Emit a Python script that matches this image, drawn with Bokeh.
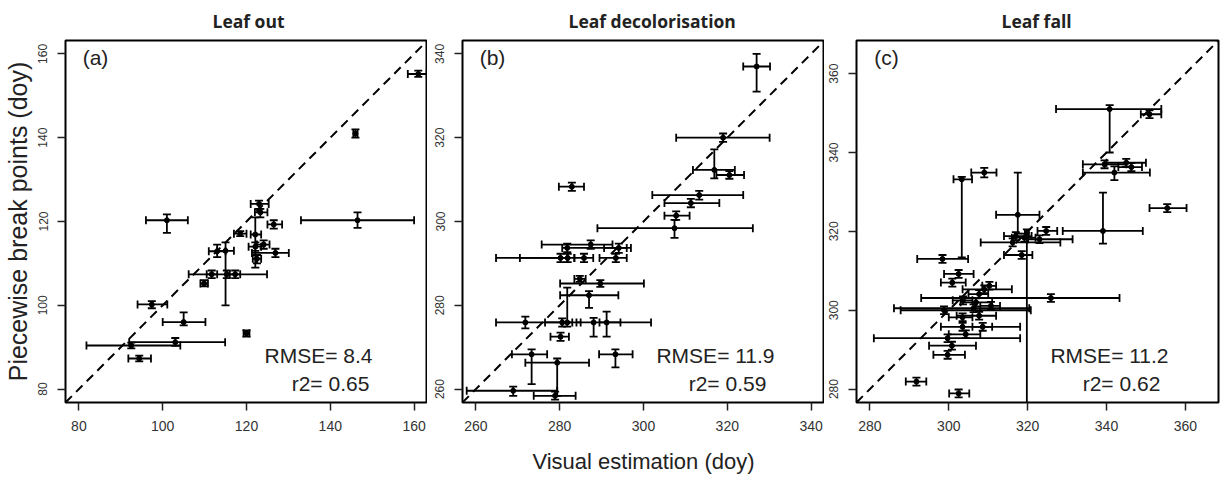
import math
from bokeh.plotting import figure
from bokeh.models import ColumnDataSource, FixedTicker, Label, Title, Range1d, Slope
from bokeh.layouts import row
from bokeh.embed import file_html
from bokeh.resources import INLINE

# ---------------- data ----------------
titles = ["Leaf out", "Leaf decolorisation", "Leaf fall"]
panel_tags = ["(a)", "(b)", "(c)"]
rmse_texts = ["RMSE= 8.4", "RMSE= 11.9", "RMSE= 11.2"]
r2_texts = ["r2= 0.65", "r2= 0.59", "r2= 0.62"]
ticks_a = [80, 100, 120, 140, 160]
ticks_b = [260, 280, 300, 320, 340]
ticks_c = [280, 300, 320, 340, 360]
lims_a = (80, 160)
lims_b = (260, 340)
lims_c = (280, 365)

a_x   = [161, 146, 101, 146.5, 123, 123.3, 126.5, 118.5, 122.1, 124.1, 122.1, 126.9, 122.5, 113, 115, 111.7, 115.3, 117.3, 109.9, 97.4, 105, 120, 92.5, 103, 94.4]
a_xlo = [158.5, 145.5, 96, 133, 121, 122, 125, 117, 121, 122.5, 120.5, 121.3, 121.5, 111, 113, 110.5, 106.2, 116, 109, 94, 100, 119.3, 81.8, 92, 91.8]
a_xhi = [163, 146.5, 106, 160, 125.3, 125, 128.5, 120, 123.5, 125.5, 123.5, 130.1, 123.5, 115, 117, 113, 124.9, 118.5, 110.8, 101.1, 110.2, 120.7, 104.2, 114.9, 97.2]
a_y   = [155.2, 141, 120.3, 120.3, 124.2, 122.2, 119.3, 117.1, 116.9, 114.5, 114, 112.5, 111.1, 112.9, 113, 107.4, 107.4, 107.4, 105.2, 100.2, 96, 93.3, 90.4, 91.2, 87.3]
a_ylo = [154.5, 140, 117.3, 118.5, 123, 121, 118.3, 116.5, 109, 113.5, 113, 111.5, 110, 111.5, 100, 106.5, 106.5, 106.5, 104.5, 99.3, 95.2, 92.5, 89.7, 90.3, 86.6]
a_yhi = [156, 142, 121.7, 122.2, 125, 123, 120.3, 117.7, 121, 115.5, 115, 113.5, 112, 114.5, 115, 108.3, 108.3, 108.3, 106, 101, 98.3, 94, 91.1, 92.2, 88]

b_x   = [327.0, 319.0, 316.9, 320.5, 282.9, 313.3, 311.3, 307.8, 307.4, 281.8, 287.4, 294.1, 280.2, 281.9, 285.8, 293.4, 284.8, 289.7, 287.0, 281.8, 271.8, 280.6, 288.1, 291.2, 280.2, 273.3, 293.3, 279.4, 268.9, 278.9]
b_xlo = [323.8, 307.8, 311.8, 317.4, 279.8, 302.1, 305.0, 305.0, 289.0, 280.6, 275.7, 290.6, 264.8, 270.5, 283.5, 289.5, 283.5, 280.1, 280.1, 280.6, 264.8, 276.5, 284.0, 289.5, 277.8, 268.6, 289.4, 271.8, 257.8, 273.8]
b_xhi = [330.2, 330.1, 321.8, 324.0, 285.8, 323.8, 318.1, 311.0, 326.1, 296.0, 292.6, 297.0, 281.8, 283.5, 288.0, 296.0, 286.2, 300.1, 294.0, 283.0, 280.5, 285.0, 301.8, 294.5, 282.2, 277.0, 297.4, 287.0, 279.4, 283.8]
b_y   = [337.0, 320.0, 312.3, 311.1, 308.3, 306.3, 304.4, 301.4, 298.4, 293.7, 294.5, 293.7, 291.3, 291.3, 291.3, 291.3, 286.3, 285.2, 282.4, 275.9, 275.9, 275.9, 275.9, 275.9, 272.5, 268.3, 268.3, 266.3, 259.6, 258.4]
b_ylo = [331.0, 319.0, 310.3, 310.2, 307.3, 305.2, 303.4, 300.4, 296.1, 292.7, 293.5, 292.5, 290.3, 290.3, 290.3, 290.3, 285.6, 284.4, 279.4, 274.9, 274.5, 274.9, 272.5, 272.5, 271.5, 261.2, 265.2, 258.4, 258.4, 257.5]
b_yhi = [340.0, 321.0, 317.2, 312.0, 309.3, 307.3, 305.4, 302.4, 300.4, 294.7, 295.5, 294.7, 292.3, 292.3, 292.3, 292.3, 287.0, 286.0, 283.4, 284.2, 277.3, 276.9, 277.0, 278.5, 273.5, 269.5, 269.5, 267.3, 260.6, 259.4]

c_x   = [340.8, 350.9, 339.5, 345.0, 342.0, 346.3, 355.4, 317.5, 309.0, 303.3, 339.1, 324.7, 319.2, 317.0, 316.2, 323.0, 318.5, 319.8, 298.4, 302.5, 300.9, 310.3, 309.0, 307.7, 325.9, 306.9, 303.6, 310.7, 298.8, 306.3, 303.5, 307.7, 303.5, 308.6, 304.3, 299.7, 300.8, 299.7, 291.8, 302.5]
c_xlo = [327.2, 348.7, 334.0, 340.0, 334.0, 343.0, 350.9, 312.0, 305.7, 301.2, 328.9, 322.5, 316.0, 314.0, 308.1, 320.1, 314.0, 319.3, 292.0, 298.8, 298.0, 308.5, 303.5, 305.0, 293.0, 303.0, 301.0, 308.0, 287.8, 286.1, 300.0, 302.0, 298.0, 306.0, 300.0, 281.0, 295.0, 296.1, 289.1, 300.1]
c_xhi = [353.9, 353.9, 345.0, 350.0, 351.0, 349.0, 360.3, 323.0, 312.1, 305.9, 349.2, 327.5, 322.0, 321.0, 328.3, 331.4, 321.2, 320.3, 304.9, 306.3, 304.3, 312.0, 316.0, 310.0, 343.3, 311.0, 306.0, 313.0, 320.8, 320.4, 306.0, 312.0, 318.1, 311.0, 308.0, 318.1, 306.9, 304.1, 294.3, 305.2]
c_y   = [351.0, 349.7, 337.0, 337.4, 334.9, 336.3, 325.9, 324.2, 334.9, 333.2, 320.1, 320.1, 318.4, 318.8, 317.2, 318.0, 314.0, 319.5, 313.0, 309.2, 307.0, 306.2, 305.3, 304.1, 303.1, 302.0, 302.5, 301.1, 300.0, 300.5, 298.2, 298.6, 295.8, 295.8, 293.9, 292.9, 291.0, 288.7, 281.9, 278.9]
c_ylo = [340.0, 348.7, 336.0, 336.4, 333.0, 335.3, 324.9, 319.4, 333.7, 313.4, 316.9, 319.1, 317.4, 317.8, 316.2, 317.0, 313.0, 250.0, 312.0, 308.2, 306.0, 305.2, 304.3, 303.1, 302.1, 301.0, 301.5, 300.1, 299.0, 299.5, 297.2, 297.6, 294.8, 294.8, 292.9, 291.9, 290.0, 287.7, 280.9, 277.9]
c_yhi = [352.0, 350.7, 338.0, 338.4, 336.5, 337.3, 326.9, 334.9, 336.1, 333.8, 329.8, 321.1, 319.4, 319.8, 318.2, 319.0, 315.0, 320.5, 314.0, 310.2, 308.0, 307.2, 306.3, 305.1, 304.1, 303.0, 303.5, 302.1, 301.0, 301.5, 299.2, 299.6, 296.8, 296.8, 294.9, 293.9, 292.0, 289.7, 282.9, 279.9]

panels = [
    (a_x, a_xlo, a_xhi, a_y, a_ylo, a_yhi, ticks_a, lims_a),
    (b_x, b_xlo, b_xhi, b_y, b_ylo, b_yhi, ticks_b, lims_b),
    (c_x, c_xlo, c_xhi, c_y, c_ylo, c_yhi, ticks_c, lims_c),
]

# ---------------- layout ----------------
FRAME = 362
borders_left = [65, 35, 32]
borders_right = [0, 0, 8]
title_left_offsets = [147, 106, 145]
SANS = "Liberation Sans"
TFONT = "Open Sans"

figs = []
for i, (x, xlo, xhi, y, ylo, yhi, ticks, lims) in enumerate(panels):
    lo, hi = lims
    ext = 0.04 * (hi - lo)
    rlo, rhi = lo - ext, hi + ext
    span = rhi - rlo
    p = figure(
        width=borders_left[i] + FRAME + borders_right[i], height=477,
        min_border_left=borders_left[i], min_border_right=borders_right[i],
        min_border_top=40, min_border_bottom=75,
        x_range=Range1d(rlo, rhi), y_range=Range1d(rlo, rhi),
        output_backend="svg", toolbar_location=None,
    )
    p.title = Title(text=titles[i], align="left", text_font=TFONT,
                    text_font_size="17.5px", text_font_style="bold",
                    text_color="#222222", standoff=12, offset=title_left_offsets[i],
                    vertical_align="top")
    p.grid.visible = False
    p.outline_line_color = "black"
    p.outline_line_width = 2
    p.background_fill_color = "white"
    p.border_fill_color = "white"

    for ax in (p.xaxis[0], p.yaxis[0]):
        ax.ticker = FixedTicker(ticks=ticks)
        ax.axis_line_color = None
        ax.major_tick_in = 0
        ax.major_tick_out = 8
        ax.major_tick_line_width = 1.5
        ax.major_tick_line_color = "#222222"
        ax.minor_tick_line_color = None
        ax.major_label_text_font = SANS
        ax.major_label_text_color = "#333333"
    p.xaxis.major_label_text_font_size = "14px"
    p.xaxis.major_label_standoff = 10
    p.yaxis.major_label_text_font_size = "12px"
    p.yaxis.major_label_orientation = "parallel"
    p.yaxis.major_label_standoff = 10

    if i == 0:
        p.yaxis.axis_label = "Piecewise break points (doy)"
        p.yaxis.axis_label_text_font = SANS
        p.yaxis.axis_label_text_font_size = "25px"
        p.yaxis.axis_label_text_font_style = "normal"
        p.yaxis.axis_label_text_color = "#222222"
        p.yaxis.axis_label_standoff = 4
    if i == 1:
        p.xaxis.axis_label = "Visual estimation (doy)"
        p.xaxis.axis_label_text_font = SANS
        p.xaxis.axis_label_text_font_size = "22px"
        p.xaxis.axis_label_text_font_style = "normal"
        p.xaxis.axis_label_text_color = "#222222"
        p.xaxis.axis_label_standoff = 15

    src = ColumnDataSource(dict(x=x, xlo=xlo, xhi=xhi, y=y, ylo=ylo, yhi=yhi))

    p.add_layout(Slope(gradient=1, y_intercept=0, line_color="black",
                       line_dash="9 6", line_width=2))

    p.segment(x0="xlo", y0="y", x1="xhi", y1="y", source=src,
              line_color="black", line_width=1.8)
    p.segment(x0="x", y0="ylo", x1="x", y1="yhi", source=src,
              line_color="black", line_width=1.8)
    for col in ("xlo", "xhi"):
        p.scatter(x=col, y="y", source=src, marker="dash", angle=math.pi / 2,
                  size=8, line_color="black", line_width=1.8)
    for col in ("ylo", "yhi"):
        p.scatter(x="x", y=col, source=src, marker="dash", size=8,
                  line_color="black", line_width=1.8)
    p.scatter(x="x", y="y", source=src, marker="circle", size=5,
              fill_color="black", line_color="black")

    p.add_layout(Label(x=rlo + 30 / FRAME * span, y=rhi - 17 / FRAME * span,
                       text=panel_tags[i], text_align="center", text_baseline="middle",
                       text_font=SANS, text_font_size="21px", text_color="#222222"))
    p.add_layout(Label(x=rhi - 109 / FRAME * span, y=rlo + 47 / FRAME * span,
                       text=rmse_texts[i], text_align="center", text_baseline="middle",
                       text_font=SANS, text_font_size="21px", text_color="#222222"))
    p.add_layout(Label(x=rhi - 97 / FRAME * span, y=rlo + 19 / FRAME * span,
                       text=r2_texts[i], text_align="center", text_baseline="middle",
                       text_font=SANS, text_font_size="21px", text_color="#222222"))
    figs.append(p)

layout = row(*figs)
open("out.html", "w").write(file_html(layout, INLINE))
